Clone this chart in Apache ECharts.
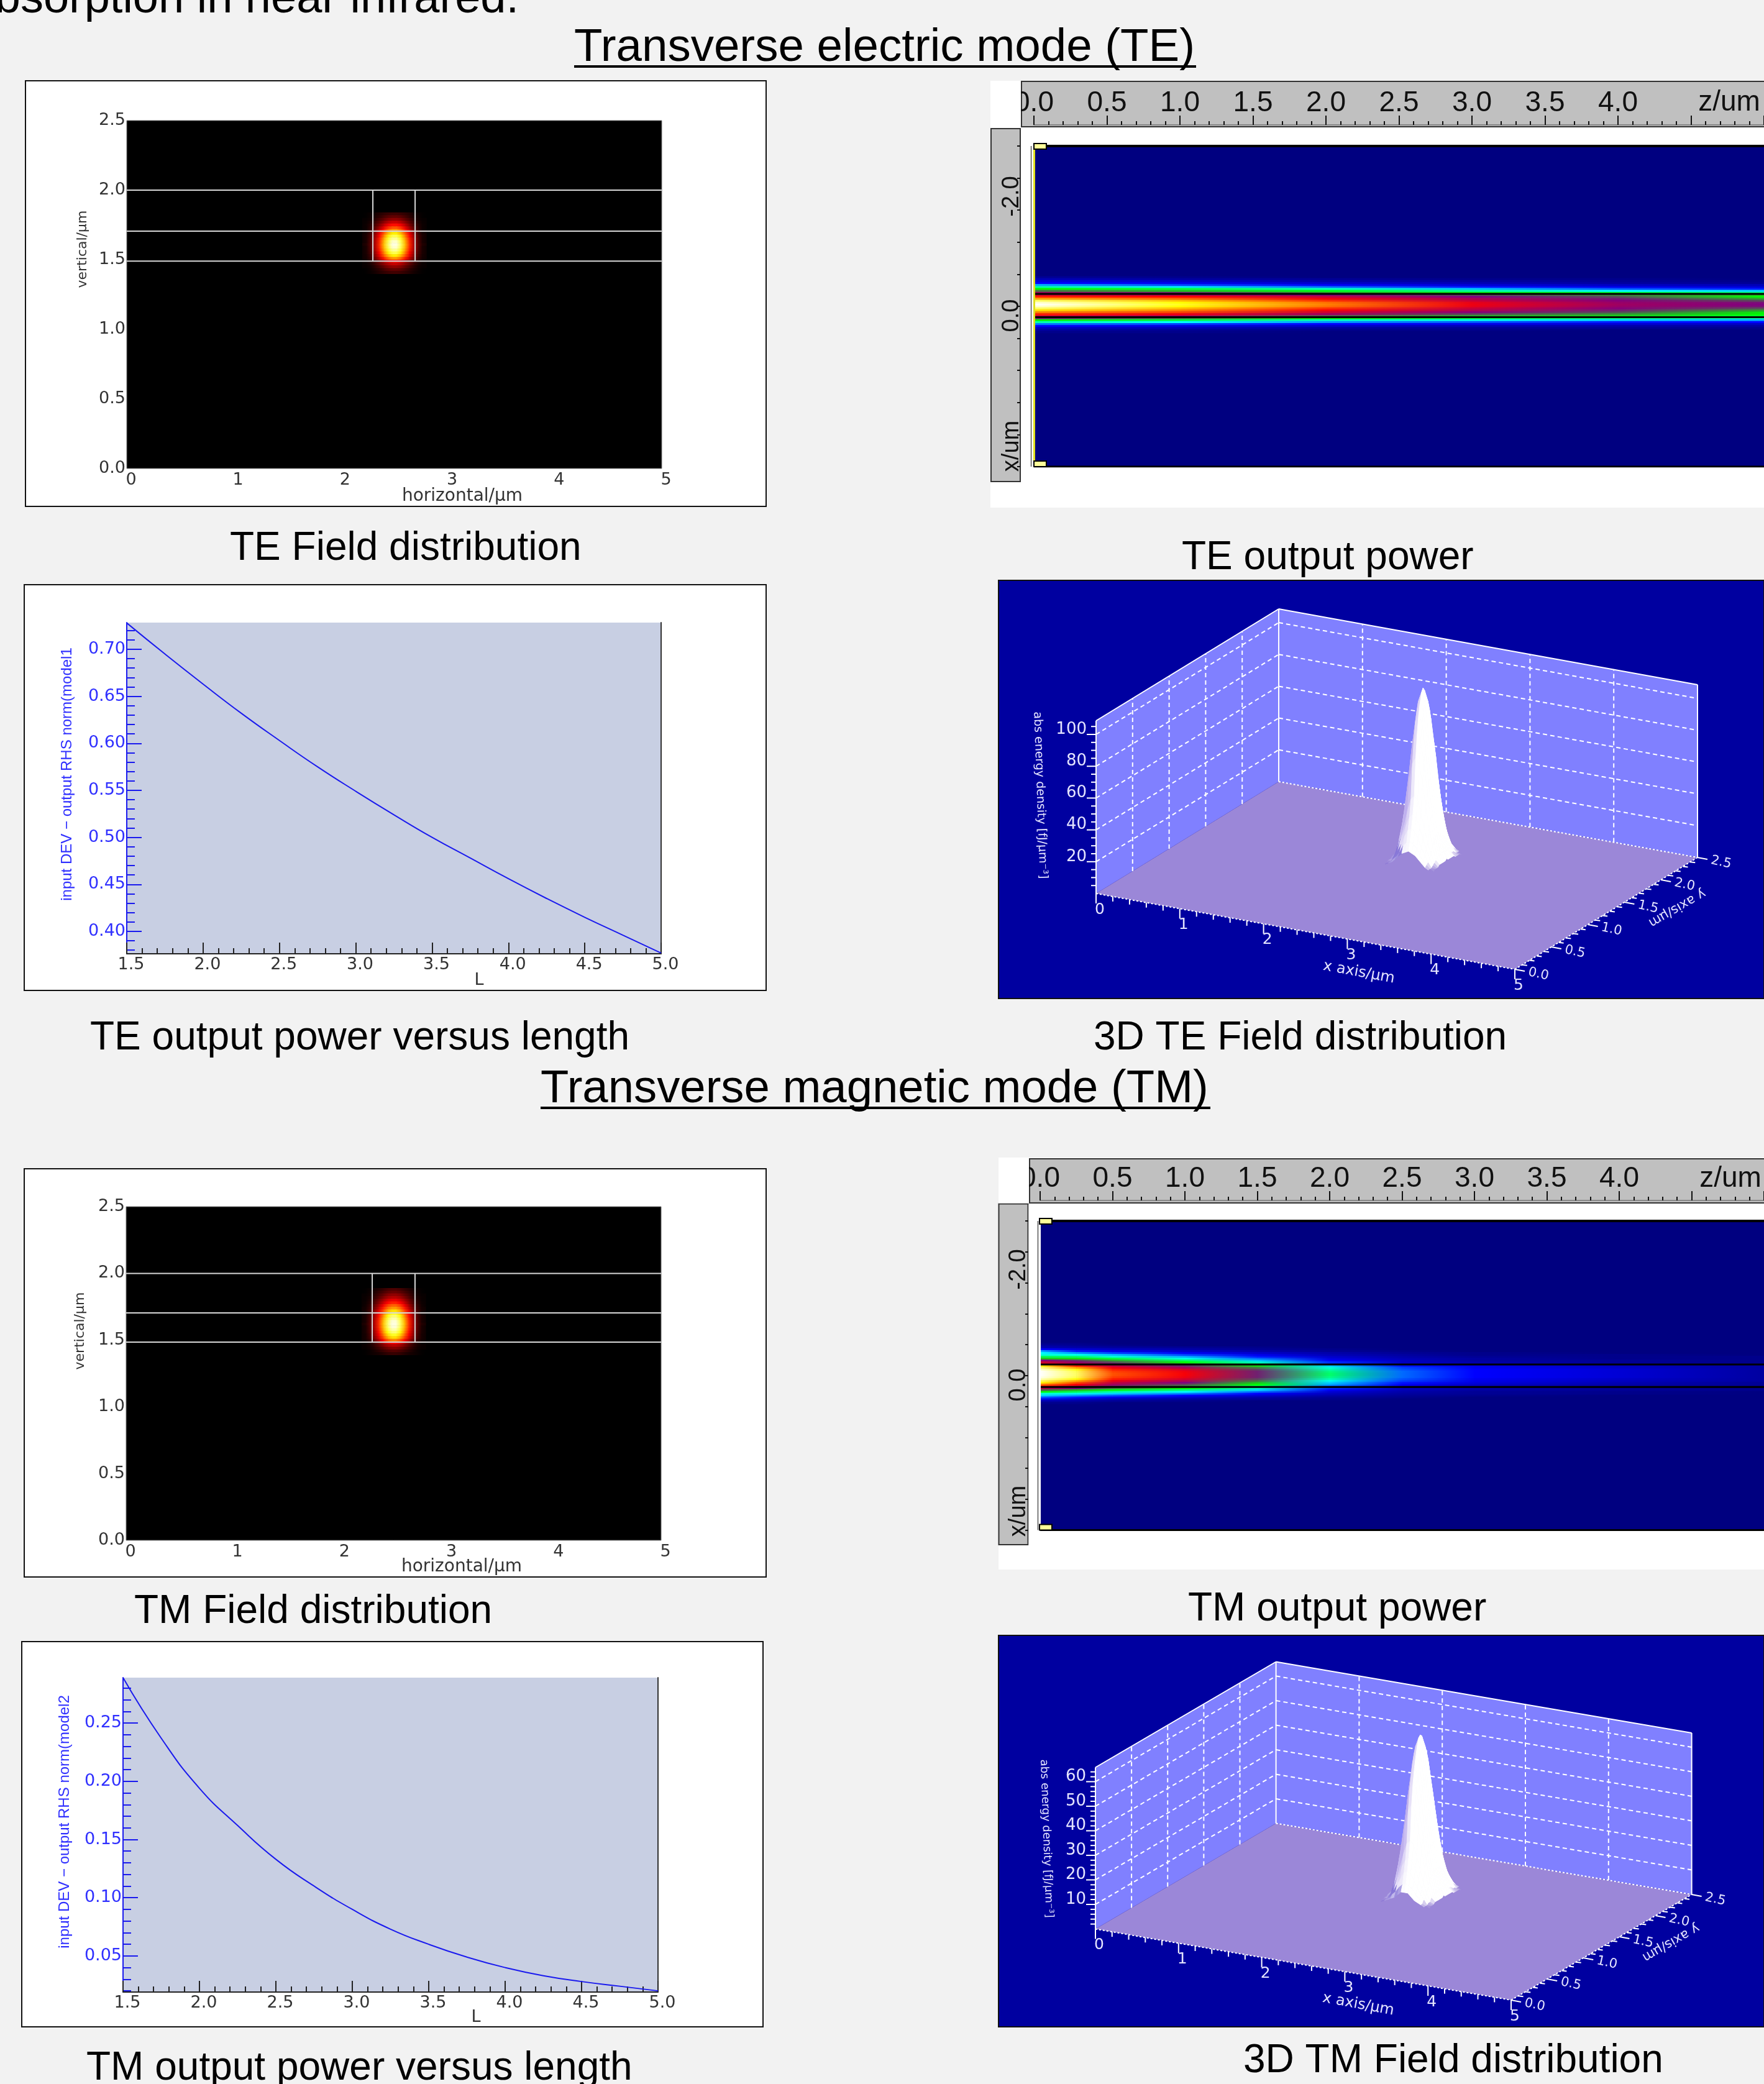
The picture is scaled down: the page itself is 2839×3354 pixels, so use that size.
<!DOCTYPE html>
<html><head><meta charset="utf-8"><title>TE and TM mode results</title>
<style>html,body{margin:0;padding:0;background:#f2f2f2}#c{width:2839px;height:3354px}</style>
<script src="https://cdn.jsdelivr.net/npm/echarts@6/dist/echarts.min.js"></script></head>
<body><div id="c"></div><script>
/* ---------- values ---------- */
const teCurveL=[1.5,1.75,2.0,2.25,2.5,2.75,3.0,3.25,3.5,3.75,4.0,4.25,4.5,4.75,5.0];
const teCurveP=[.728,.695,.663,.632,.603,.575,.549,.524,.500,.478,.456,.435,.415,.396,.377];
const tmCurveL=[1.5,1.75,2.0,2.25,2.5,2.75,3.0,3.25,3.5,3.75,4.0,4.25,4.5,4.75,5.0];
const tmCurveP=[.289,.237,.194,.162,.133,.110,.090,.073,.060,.049,.040,.033,.028,.024,.020];
const teMajorY=[.40,.45,.50,.55,.60,.65,.70];
const tmMajorY=[.05,.10,.15,.20,.25];
const curveMajorX=[1.5,2,2.5,3,3.5,4,4.5,5];
const fieldGuideTE={h:[2.0,1.705,1.49],v:[2.30,2.695]};
const fieldGuideTM={h:[2.0,1.704,1.485],v:[2.30,2.70]};
const fieldColsX=[2.22,2.26,2.30,2.34,2.38,2.42,2.46,2.50,2.54,2.58,2.62,2.66,2.70,2.74,2.78];
const teFieldY=[1.83,1.81,1.79,1.77,1.75,1.73,1.71,1.69,1.67,1.65,1.63,1.61,1.59,1.57,1.55,1.53,1.51,1.49,1.47,1.45,1.43,1.41];
const teField=[
[0,1,2,4,6,8,9,10,9,8,6,4,2,1,0],
[0,1,3,5,8,12,14,15,14,12,8,5,3,1,0],
[1,1,4,8,12,17,21,22,21,17,12,8,4,1,1],
[1,2,6,11,17,24,29,31,29,24,17,11,6,2,1],
[1,3,8,14,23,32,39,41,39,32,23,14,8,3,1],
[1,3,10,18,29,40,49,52,49,40,29,18,10,3,1],
[2,4,12,22,35,49,60,64,60,49,35,22,12,4,2],
[2,5,14,27,42,59,71,76,71,59,42,27,14,5,2],
[2,6,16,30,47,66,81,86,81,66,47,30,16,6,2],
[2,6,18,33,51,72,87,93,87,72,51,33,18,6,2],
[2,6,19,34,54,75,92,98,92,75,54,34,19,6,2],
[3,7,19,35,55,77,94,100,94,77,55,35,19,7,3],
[2,6,19,34,54,75,92,98,92,75,54,34,19,6,2],
[2,6,18,33,51,72,87,93,87,72,51,33,18,6,2],
[2,6,16,30,47,66,81,86,81,66,47,30,16,6,2],
[2,5,14,27,42,59,71,76,71,59,42,27,14,5,2],
[2,4,12,22,34,48,58,62,58,48,34,22,12,4,2],
[1,3,8,14,22,31,38,40,38,31,22,14,8,3,1],
[1,2,6,11,17,23,28,30,28,23,17,11,6,2,1],
[1,1,4,8,12,17,21,22,21,17,12,8,4,1,1],
[0,1,3,5,8,12,14,15,14,12,8,5,3,1,0],
[0,1,2,4,6,8,9,10,9,8,6,4,2,1,0]];
const tmFieldY=[1.88,1.86,1.84,1.82,1.80,1.78,1.76,1.74,1.72,1.70,1.68,1.66,1.64,1.62,1.60,1.58,1.56,1.54,1.52,1.50,1.48,1.46,1.44,1.42,1.40];
const tmField=[
[0,1,2,4,6,9,11,12,11,9,6,4,2,1,0],
[0,1,3,6,9,12,15,16,15,12,9,6,3,1,0],
[1,1,4,8,12,17,21,22,21,17,12,8,4,1,1],
[1,2,5,10,15,22,26,28,26,22,15,10,5,2,1],
[1,2,7,13,20,28,34,36,34,28,20,13,7,2,1],
[1,3,8,15,24,34,41,44,41,34,24,15,8,3,1],
[1,4,10,19,30,42,51,54,51,42,30,19,10,4,1],
[2,4,12,22,35,49,59,63,59,49,35,22,12,4,2],
[2,5,14,26,40,56,69,73,69,56,40,26,14,5,2],
[2,5,16,29,45,63,77,82,77,63,45,29,16,5,2],
[2,6,17,31,49,69,84,89,84,69,49,31,17,6,2],
[2,6,18,33,52,73,89,95,89,73,52,33,18,6,2],
[2,6,19,35,54,76,93,99,93,76,54,35,19,6,2],
[3,7,19,35,55,77,94,100,94,77,55,35,19,7,3],
[2,6,19,35,54,76,93,99,93,76,54,35,19,6,2],
[2,6,18,33,52,73,89,95,89,73,52,33,18,6,2],
[2,6,17,31,49,69,84,89,84,69,49,31,17,6,2],
[2,5,16,29,45,63,77,82,77,63,45,29,16,5,2],
[2,5,14,26,40,56,69,73,69,56,40,26,14,5,2],
[2,4,11,21,33,46,56,60,56,46,33,21,11,4,2],
[1,2,7,13,21,29,36,38,36,29,21,13,7,2,1],
[1,2,5,10,15,22,26,28,26,22,15,10,5,2,1],
[1,1,4,7,11,15,19,20,19,15,11,7,4,1,1],
[0,1,2,5,7,10,12,13,12,10,7,5,2,1,0],
[0,1,2,3,4,6,8,8,8,6,4,3,2,1,0]];
/* power strips: one column per z station, rows run across the waveguide */
const teStripZ=[0,1,2,3,4,5];
const teStripStart=-.955, teStripStep=.0305;
const teStrip=[
[2,5,9,12,20,28,36,45,56,62,70,78,90,97,100,97,90,82,76,70,60,50,36,28,18,12,6,3,1],
[1,3,7,10,15,23,33,40,50,58,68,74,80,84,86,84,80,76,72,66,56,44,33,24,15,9,5,2,1],
[0,2,4,7,11,17,27,35,42,52,60,66,71,75,76,75,71,67,62,56,45,37,27,19,12,7,3,1,0],
[0,1,3,5,8,13,21,29,37,47,52,57,61,65,66,65,61,58,53,47,40,33,25,16,10,5,2,1,0],
[0,1,2,3,6,10,16,24,34,43,47,50,53,55,56,55,53,50,47,42,38,30,22,13,8,4,2,0,0],
[0,0,1,2,5,8,13,22,30,40,36,41,47,51,52,51,47,42,37,36,34,28,20,12,6,3,1,0,0]];
const teCoreLines=[-.694,-.330];
const tmStripZ=[0,.25,.5,1,1.5,2,2.5,3,4,5];
const tmStripStart=-1.015, tmStripStep=.03;
const tmStrip=[
[1,3,5,12,20,24,26,32,40,52,62,66,84,92,97,100,100,100,99,96,90,84,76,68,60,46,36,26,22,16,10,4,1],
[1,2,4,8,13,19,25,31,38,48,54,60,70,78,85,89,90,90,89,85,79,73,68,60,52,40,32,25,19,13,7,3,1],
[0,1,3,6,10,15,21,26,33,41,47,52,60,66,70,72,73,73,72,70,66,61,56,50,44,35,28,22,16,10,5,2,0],
[0,0,2,4,7,11,15,20,25,31,36,40,50,57,63,66,67,67,66,63,58,52,48,42,36,30,24,18,12,7,3,1,0],
[0,0,1,2,4,7,10,13,17,21,26,30,38,44,48,50,50,50,50,48,45,40,36,32,27,22,17,12,8,4,2,0,0],
[0,0,0,1,2,4,5,7,9,11,14,14,22,26,28,30,31,31,30,28,25,22,20,16,14,11,8,6,4,2,1,0,0],
[0,0,0,0,1,2,3,4,5,6,6,7,13,15,16,17,17,17,17,16,15,13,11,8,6,5,4,3,2,1,0,0,0],
[0,0,0,0,0,1,1,2,3,3,4,5,10,11,12,12,12,12,12,11,10,9,7,5,4,3,2,2,1,0,0,0,0],
[0,0,0,0,0,0,1,1,1,2,2,3,6,7,8,8,8,8,8,7,6,5,4,3,2,2,1,1,0,0,0,0,0],
[0,0,0,0,0,0,0,1,1,1,1,2,3,3,3,3,3,3,3,3,3,2,2,1,1,1,0,0,0,0,0,0,0]];
const tmCoreLines=[-.678,-.315];
const rulerMajor=[0,.5,1,1.5,2,2.5,3,3.5,4];
const rulerTicks=[0,.5,1,1.5,2,2.5,3,3.5,4,4.5,5];
const rulerMinor=[];for(let i=0;i<=50;i++)rulerMinor.push(i/10);
const sideTicks=[-3,-2.5,-2,-1.5,-1,-.5,0,.5,1,1.5,2];
const surfXTicks=[0,1,2,3,4,5];
const surfYTicks=[0,.5,1,1.5,2,2.5];
const teSurfZTicks=[20,40,60,80,100];
const tmSurfZTicks=[10,20,30,40,50,60];

/* ---------- fonts and helpers ---------- */
const CAP="'Liberation Sans',Arial,sans-serif";
const TICK="'DejaVu Sans',sans-serif";
const INK='#333';
const grids=[],xAxes=[],yAxes=[],series=[],graphics=[];
function addGrid(l,t,w,h,o){grids.push(Object.assign({left:l,top:t,width:w,height:h,containLabel:false},o||{}));return grids.length-1;}
function baseAxis(g,o){return Object.assign({gridIndex:g,type:'value',axisLine:{show:false,onZero:false},axisTick:{show:false},axisLabel:{show:false},splitLine:{show:false}},o);}
function addX(g,o){xAxes.push(baseAxis(g,o));return xAxes.length-1;}
function addY(g,o){yAxes.push(baseAxis(g,o));return yAxes.length-1;}
function text(s,x,y,o){o=o||{};graphics.push({type:'text',x:x,y:y,rotation:o.rot||0,z:o.z==null?5:o.z,silent:true,
  style:{text:s,fontSize:o.size||64,fontFamily:o.font||CAP,fontWeight:o.weight||'normal',fill:o.fill||'#000',align:o.align||'left',verticalAlign:o.va||'middle'}});}
function rect(x,y,w,h,fill,o){o=o||{};graphics.push({type:'rect',z:o.z==null?-10:o.z,silent:true,shape:{x:x,y:y,width:w,height:h},style:{fill:fill,stroke:o.stroke||null,lineWidth:o.lw||0}});}
function lerp(a,b,t){return [a[0]+(b[0]-a[0])*t,a[1]+(b[1]-a[1])*t,a[2]+(b[2]-a[2])*t];}
function css(c){return 'rgb('+Math.round(c[0])+','+Math.round(c[1])+','+Math.round(c[2])+')';}
function ramp(stops,v){for(let i=1;i<stops.length;i++){if(v<=stops[i][0]){return css(lerp(stops[i-1][1],stops[i][1],(v-stops[i-1][0])/(stops[i][0]-stops[i-1][0])));}}return css(stops[stops.length-1][1]);}
const hotStops=[[0,[0,0,0]],[38,[255,0,0]],[76,[255,255,0]],[100,[255,255,255]]];
const jetStops=[[0,[0,0,128]],[12,[0,0,255]],[24,[0,255,255]],[36,[0,255,0]],[52,[128,0,128]],[68,[255,0,0]],[84,[255,255,0]],[100,[255,255,255]]];
/* cells: [x0,x1,y0,y1,v0,v1] */
function cellSeries(xi,yi,stops,cells){
  series.push({type:'custom',xAxisIndex:xi,yAxisIndex:yi,clip:true,silent:true,animation:false,data:cells,
    encode:{x:[0,1],y:[2,3]},
    renderItem:function(p,api){
      const a=api.coord([api.value(0),api.value(2)]),b=api.coord([api.value(1),api.value(3)]);
      const x=Math.min(a[0],b[0]),y=Math.min(a[1],b[1]),w=Math.abs(a[0]-b[0]),h=Math.abs(a[1]-b[1]);
      return {type:'rect',shape:{x:x,y:y,width:w+.6,height:h+.6},style:{
        fill:new echarts.graphic.LinearGradient(0,0,1,0,[{offset:0,color:ramp(stops,api.value(4))},{offset:1,color:ramp(stops,api.value(5))}])}};
    }});
}
function segLine(xi,yi,pts,color,width,smooth){
  series.push({type:'line',xAxisIndex:xi,yAxisIndex:yi,showSymbol:false,symbol:'none',silent:true,animation:false,smooth:!!smooth,
    data:pts,lineStyle:{color:color,width:width}});
}
/* ---------- panel builders ---------- */
function fieldPanel(fr,pl,table,ys,guide,names){
  rect(fr[0],fr[1],fr[2],fr[3],'#fff',{stroke:'#111',lw:2});
  const g=addGrid(pl[0],pl[1],pl[2],pl[3],{show:true,backgroundColor:'#000',borderColor:'#777',borderWidth:1});
  const lab={show:true,color:INK,fontSize:27,fontFamily:TICK};
  const x=addX(g,{min:0,max:5,interval:1,position:'bottom',axisLabel:Object.assign({},lab,{margin:5,padding:[0,0,0,14]})});
  const y=addY(g,{min:0,max:2.5,interval:.5,position:'left',axisLabel:Object.assign({},lab,{margin:2,formatter:v=>v.toFixed(1)})});
  const cells=[];const dx=fieldColsX[1]-fieldColsX[0],dy=Math.abs(ys[1]-ys[0]);
  table.forEach((row,r)=>row.forEach((v,c)=>{
    const l=c?(row[c-1]+v)/2:v,rr=c<row.length-1?(row[c+1]+v)/2:v;
    cells.push([fieldColsX[c]-dx/2,fieldColsX[c]+dx/2,ys[r]-dy/2,ys[r]+dy/2,l,rr]);
  }));
  cellSeries(x,y,hotStops,cells);
  guide.h.forEach(h=>segLine(x,y,[[0,h],[5,h]],'#d8d8d8',2));
  guide.v.forEach(v=>segLine(x,y,[[v,guide.h[2]],[v,guide.h[0]]],'#d8d8d8',2));
  text('horizontal/μm',names[0],names[1],{size:28,font:TICK,align:'center',fill:INK});
  text('vertical/μm',names[2],names[3],{size:22,font:TICK,align:'center',fill:INK,rot:Math.PI/2});
}
function curvePanel(fr,pl,yr,L,P,major,minorFrom,minorTo,yName,names){
  rect(fr[0],fr[1],fr[2],fr[3],'#fff',{stroke:'#111',lw:2});
  const g=addGrid(pl[0],pl[1],pl[2],pl[3],{show:true,backgroundColor:'#c8cfe3',borderWidth:0});
  const blue='#1a1aee';
  const minorY=[];for(let i=minorFrom;i<=minorTo;i++)minorY.push(i/100);
  const minorX=[];for(let i=15;i<=50;i++)minorX.push(i/10);
  const x=addX(g,{min:1.5,max:5,position:'bottom',axisLine:{show:true,onZero:false,lineStyle:{color:'#222',width:2}},
    axisTick:{show:true,inside:true,length:18,customValues:curveMajorX,lineStyle:{color:'#222',width:2}},
    axisLabel:{show:true,color:INK,fontSize:27,fontFamily:TICK,margin:4,padding:[0,0,0,14],customValues:curveMajorX,formatter:v=>v.toFixed(1),showMinLabel:true,showMaxLabel:true}});
  addX(g,{min:1.5,max:5,position:'bottom',axisTick:{show:true,inside:true,length:9,customValues:minorX,lineStyle:{color:'#222',width:2}}});
  const y=addY(g,{min:yr[0],max:yr[1],position:'left',axisLine:{show:true,onZero:false,lineStyle:{color:blue,width:2}},
    axisTick:{show:true,inside:true,length:24,customValues:major,lineStyle:{color:blue,width:2}},
    axisLabel:{show:true,color:'#3030ff',fontSize:27,fontFamily:TICK,margin:2,customValues:major,formatter:v=>v.toFixed(2)}});
  addY(g,{min:yr[0],max:yr[1],position:'left',axisTick:{show:true,inside:true,length:13,customValues:minorY,lineStyle:{color:blue,width:2}}});
  addY(g,{min:yr[0],max:yr[1],position:'right',axisLine:{show:true,onZero:false,lineStyle:{color:'#333',width:2}}});
  segLine(x,y,L.map((v,i)=>[v,P[i]]),blue,2,true);
  text('L',names[0],names[1],{size:27,font:TICK,align:'center',fill:INK});
  text(yName,names[2],names[3],{size:24,font:"'Liberation Sans',sans-serif",align:'center',fill:'#3030ff',rot:Math.PI/2});
}
function stripPanel(bg,ruler,side,pl,offs,stripZ,strip,start,step,lines,labels,edge){
  rect(bg[0],bg[1],bg[2],bg[3],'#fff');
  rect(ruler[0],ruler[1],ruler[2],ruler[3],'#c0c0c0',{stroke:'#333',lw:2,z:-5});
  rect(side[0],side[1],side[2],side[3],'#c0c0c0',{stroke:'#333',lw:2,z:-5});
  const g=addGrid(pl[0],pl[1],pl[2],pl[3],{show:true,backgroundColor:'#000080',borderWidth:0});
  const x=addX(g,{min:0,max:5,position:'top',offset:offs[0],axisLine:{show:true,onZero:false,lineStyle:{color:'#888',width:2}},
    axisTick:{show:true,length:15,customValues:rulerTicks,lineStyle:{color:'#111',width:2}},
    axisLabel:{show:true,color:'#111',fontSize:46,fontFamily:CAP,margin:12,customValues:rulerMajor,formatter:v=>v.toFixed(1)}});
  addX(g,{min:0,max:5,position:'top',offset:offs[0],axisTick:{show:true,length:6,customValues:rulerMinor,lineStyle:{color:'#111',width:2}}});
  const y=addY(g,{min:-3,max:2,inverse:true,position:'left',offset:offs[1],axisTick:{show:true,length:5,customValues:sideTicks,lineStyle:{color:'#111',width:2}}});
  const cells=[];const nRows=strip[0].length;
  for(let j=0;j<stripZ.length-1;j++)for(let i=0;i<nRows;i++){
    const xc=start+i*step;
    cells.push([stripZ[j],stripZ[j+1],xc-step/2,xc+step/2,strip[j][i],strip[j+1][i]]);
  }
  cellSeries(x,y,jetStops,cells);
  lines.forEach(v=>segLine(x,y,[[0,v],[5,v]],'#000',3));
  segLine(x,y,[[0,-3],[5,-3]],'#000',4);
  segLine(x,y,[[0,2],[5,2]],'#000',3);
  /* covers that cut the ruler labels as in the original screen grab */
  rect(bg[0],bg[1],ruler[0]-bg[0]-1,side[1]-bg[1]-1,'#fff',{z:100});
  rect(side[0]+side[2]+1,side[1]+1,edge[0]-side[0]-side[2]-1,side[3],'#fff',{z:100});
  text('z/um',labels.z[0],labels.z[1],{size:46,align:'center',z:6,fill:'#111'});
  const sx=labels.sx,r90=Math.PI/2;
  text('-2.0',sx,labels.s[0],{size:38,align:'center',rot:r90,fill:'#111'});
  text('0.0',sx,labels.s[1],{size:38,align:'center',rot:r90,fill:'#111'});
  text('x/um',sx,labels.s[2],{size:38,align:'center',rot:r90,fill:'#111'});
  rect(edge[0]-1,pl[1],2,pl[3],'#111',{z:60});
  rect(edge[1]-1,pl[1],3,pl[3],edge[2],{z:60});
  rect(edge[1],pl[1]-4,20,9,'#ffff99',{stroke:'#000',lw:2,z:60});
  rect(edge[1],pl[1]+pl[3]-9,20,9,'#ffff99',{stroke:'#000',lw:2,z:60});
}
/* page-wide hidden axes for the two perspective plots */
const pageG=addGrid(0,0,2839,3354,{show:false});
const pageX=addX(pageG,{min:0,max:2839,show:false});
const pageY=addY(pageG,{min:0,max:3354,inverse:true,show:false});
function customOnPage(n,render){
  const d=[];for(let i=0;i<n;i++)d.push([i]);
  series.push({type:'custom',xAxisIndex:pageX,yAxisIndex:pageY,clip:false,silent:true,animation:false,data:d,encode:{x:0,y:0},renderItem:render});
}
function surfacePanel(bg,A,ex,ey,H,zMax,peak,zTicks,zMinor,table,ys,names,zName){
  rect(bg[0],bg[1],bg[2],bg[3],'#0000a0',{stroke:'#111',lw:2});
  const proj=(x,y,z)=>[A[0]+x/5*ex[0]+y/2.5*ey[0],A[1]+x/5*ex[1]+y/2.5*ey[1]-z/zMax*H];
  const wall='#8080ff',floorC=[155,135,216];
  const polys=[[[0,0,0],[0,2.5,0],[0,2.5,zMax],[0,0,zMax]],[[0,2.5,0],[5,2.5,0],[5,2.5,zMax],[0,2.5,zMax]],[[0,0,0],[5,0,0],[5,2.5,0],[0,2.5,0]]];
  const fills=[wall,wall,css(floorC)];
  customOnPage(3,(p,api)=>({type:'polygon',shape:{points:polys[p.dataIndex].map(q=>api.coord(proj(q[0],q[1],q[2])))},style:{fill:fills[p.dataIndex]}}));
  /* frame, grid lines and ticks */
  const segs=[];
  const add=(a,b,k,off)=>segs.push({a:a,b:b,k:k,off:off||[0,0]});
  zTicks.forEach(z=>{add([0,0,z],[0,2.5,z],1);add([0,2.5,z],[5,2.5,z],1);});
  [1,2,3,4].forEach(x=>add([x,2.5,0],[x,2.5,zMax],1));
  [.5,1,1.5,2].forEach(y=>add([0,y,0],[0,y,zMax],1));
  add([0,0,0],[0,0,zMax],0);add([0,0,zMax],[0,2.5,zMax],0);add([0,2.5,zMax],[5,2.5,zMax],0);
  add([5,2.5,zMax],[5,2.5,0],0);add([0,2.5,0],[0,2.5,zMax],0);
  add([0,2.5,0],[5,2.5,0],2);add([0,0,0],[5,0,0],2);add([5,0,0],[5,2.5,0],2);
  for(let i=0;i<=25;i++){const x=i/5;add([x,0,0],[x,0,0],0,i%5==0?[0,16]:[0,8]);}
  for(let i=0;i<=25;i++){const y=i/10;add([5,y,0],[5,y,0],0,i%5==0?[16,3]:[8,1]);}
  zMinor.forEach(z=>add([0,0,z],[0,0,z],0,zTicks.indexOf(z)>=0?[-15,0]:[-8,0]));
  customOnPage(segs.length,(p,api)=>{const s=segs[p.dataIndex];
    const a=api.coord(proj(s.a[0],s.a[1],s.a[2])),b=api.coord(proj(s.b[0],s.b[1],s.b[2]));
    return {type:'line',shape:{x1:a[0],y1:a[1],x2:b[0]+s.off[0],y2:b[1]+s.off[1]},
      style:{stroke:'#fff',lineWidth:2,lineDash:s.k==1?[7,5]:s.k==2?[3,3]:null}};});
  /* peak surface: far rows first, left columns first */
  const hh=v=>v*peak/100,nr=table.length,nc=table[0].length,dark=[170,150,232],deep=[105,85,205],white=[255,255,255];
  customOnPage((nr-1)*(nc-1),(p,api)=>{
    const r=Math.floor(p.dataIndex/(nc-1)),c=p.dataIndex%(nc-1);
    const v=[table[r][c],table[r][c+1],table[r+1][c+1],table[r+1][c]];
    const avg=(v[0]+v[1]+v[2]+v[3])/4,slope=(v[1]+v[2]-v[0]-v[3])/2;
    let col=lerp(floorC,white,Math.min(1,Math.max(0,(avg-.5)/2.5)));
    if(slope>0){col=lerp(col,dark,Math.min(.75,slope/14)); if(avg<10)col=lerp(col,deep,Math.min(.75,slope/4));}
    const pts=[[fieldColsX[c],ys[r],hh(v[0])],[fieldColsX[c+1],ys[r],hh(v[1])],[fieldColsX[c+1],ys[r+1],hh(v[2])],[fieldColsX[c],ys[r+1],hh(v[3])]]
      .map(q=>api.coord(proj(q[0],q[1],q[2])));
    const f=css(col);
    return {type:'polygon',shape:{points:pts},style:{fill:f,stroke:f,lineWidth:1}};
  });
  /* tick labels */
  const lc='#e4e4ff';
  const tl=[];
  surfXTicks.forEach(x=>tl.push({t:String(x),p:[x,0,0],o:[6,26],a:'center',s:25,r:0}));
  surfYTicks.forEach(y=>tl.push({t:y.toFixed(1),p:[5,y,0],o:[38,8],a:'center',s:21,r:-.22}));
  zTicks.forEach(z=>tl.push({t:String(z),p:[0,0,z],o:[-15,-8],a:'right',s:26,r:0}));
  customOnPage(tl.length,(p,api)=>{const k=tl[p.dataIndex];const a=api.coord(proj(k.p[0],k.p[1],k.p[2]));
    return {type:'text',x:a[0]+k.o[0],y:a[1]+k.o[1],rotation:k.r,style:{text:k.t,fill:lc,fontSize:k.s,fontFamily:TICK,align:k.a,verticalAlign:'middle'}};});
  text('x axis/μm',names[0],names[1],{size:24,font:TICK,align:'center',fill:lc,rot:-.18,z:5});
  text('y axis/μm',names[2],names[3],{size:21,font:TICK,align:'center',fill:lc,rot:210*Math.PI/180,z:5});
  text(zName,names[4],names[5],{size:names[6],font:TICK,align:'center',fill:lc,rot:-88*Math.PI/180,z:5});
}
/* ---------- build the page ---------- */
fieldPanel([41,130,1192,685],[204,194,861,560],teField,teFieldY,fieldGuideTE,[744,799,133,401]);
curvePanel([39,941,1194,653],[204,1002,860,533],[.3762,.7284],teCurveL,teCurveP,teMajorY,38,72,'input DEV − output RHS norm(model1',[771,1578,108,1246]);
fieldPanel([39,1881,1194,657],[203,1942,861,537],tmField,tmFieldY,fieldGuideTM,[743,2522,129,2142]);
curvePanel([35,2642,1193,620],[198,2700,861,506],[.019,.289],tmCurveL,tmCurveP,tmMajorY,2,28,'input DEV − output RHS norm(model2',[766,3247,104,2932]);
stripPanel([1594,130,1245,687],[1644,131,1200,73],[1595,207,47,568],[1664,235,1176,516],[34,22],teStripZ,teStrip,teStripStart,teStripStep,teCoreLines,{z:[2783,165],sx:1629,s:[316,508,718]},[1659,1664,'#e0e020']);
stripPanel([1607,1863,1232,663],[1657,1865,1190,71],[1607.5,1937.5,47,548.5],[1674,1965,1168,497.5],[33,19],tmStripZ,tmStrip,tmStripStart,tmStripStep,tmCoreLines,{z:[2785,1897],sx:1640,s:[2043,2229,2432]},[1670,1673,'#ffffff']);
const teZMinor=[];for(let z=5;z<=105;z+=5)teZMinor.push(z);
const tmZMinor=[];for(let z=2;z<=64;z+=2)tmZMinor.push(z);
surfacePanel([1607,934,1232,673],[1764,1438],[674,122],[294,-180],278,108.6,107.8,teSurfZTicks,teZMinor,teField,teFieldY,[2187,1565,2699,1461,1674,1280,19],'abs energy density [fJ/μm⁻³]');
surfacePanel([1607,2632,1232,630],[1763,3104.5],[669,114.5],[290.6,-170],260,65.8,65.6,tmSurfZTicks,tmZMinor,tmField,tmFieldY,[2186,3226,2689,3126,1684,2959,18],'abs energy density [fJ/μm⁻³]');
/* headings and captions */
text('absorption in near infrared.',835,0,{size:74,align:'right'});
text('Transverse electric mode (TE)',924,77,{size:74.5});
rect(924,105,1001,4,'#000',{z:6});
text('Transverse magnetic mode (TM)',870,1754,{size:74.3});
rect(870,1781,1078,4,'#000',{z:6});
text('TE Field distribution',370,883,{});
text('TE output power',1902,898,{});
text('TE output power versus length',145,1671,{});
text('3D TE Field distribution',1760,1671,{});
text('TM Field distribution',216,2594,{});
text('TM output power',1912,2590,{});
text('TM output power versus length',139,3329,{});
text('3D TM Field distribution',2001,3317,{});

const chart=echarts.init(document.getElementById('c'),null,{renderer:'canvas',width:2839,height:3354});
chart.setOption({backgroundColor:'#f2f2f2',animation:false,grid:grids,xAxis:xAxes,yAxis:yAxes,series:series,graphic:{elements:graphics}});
</script></body></html>
